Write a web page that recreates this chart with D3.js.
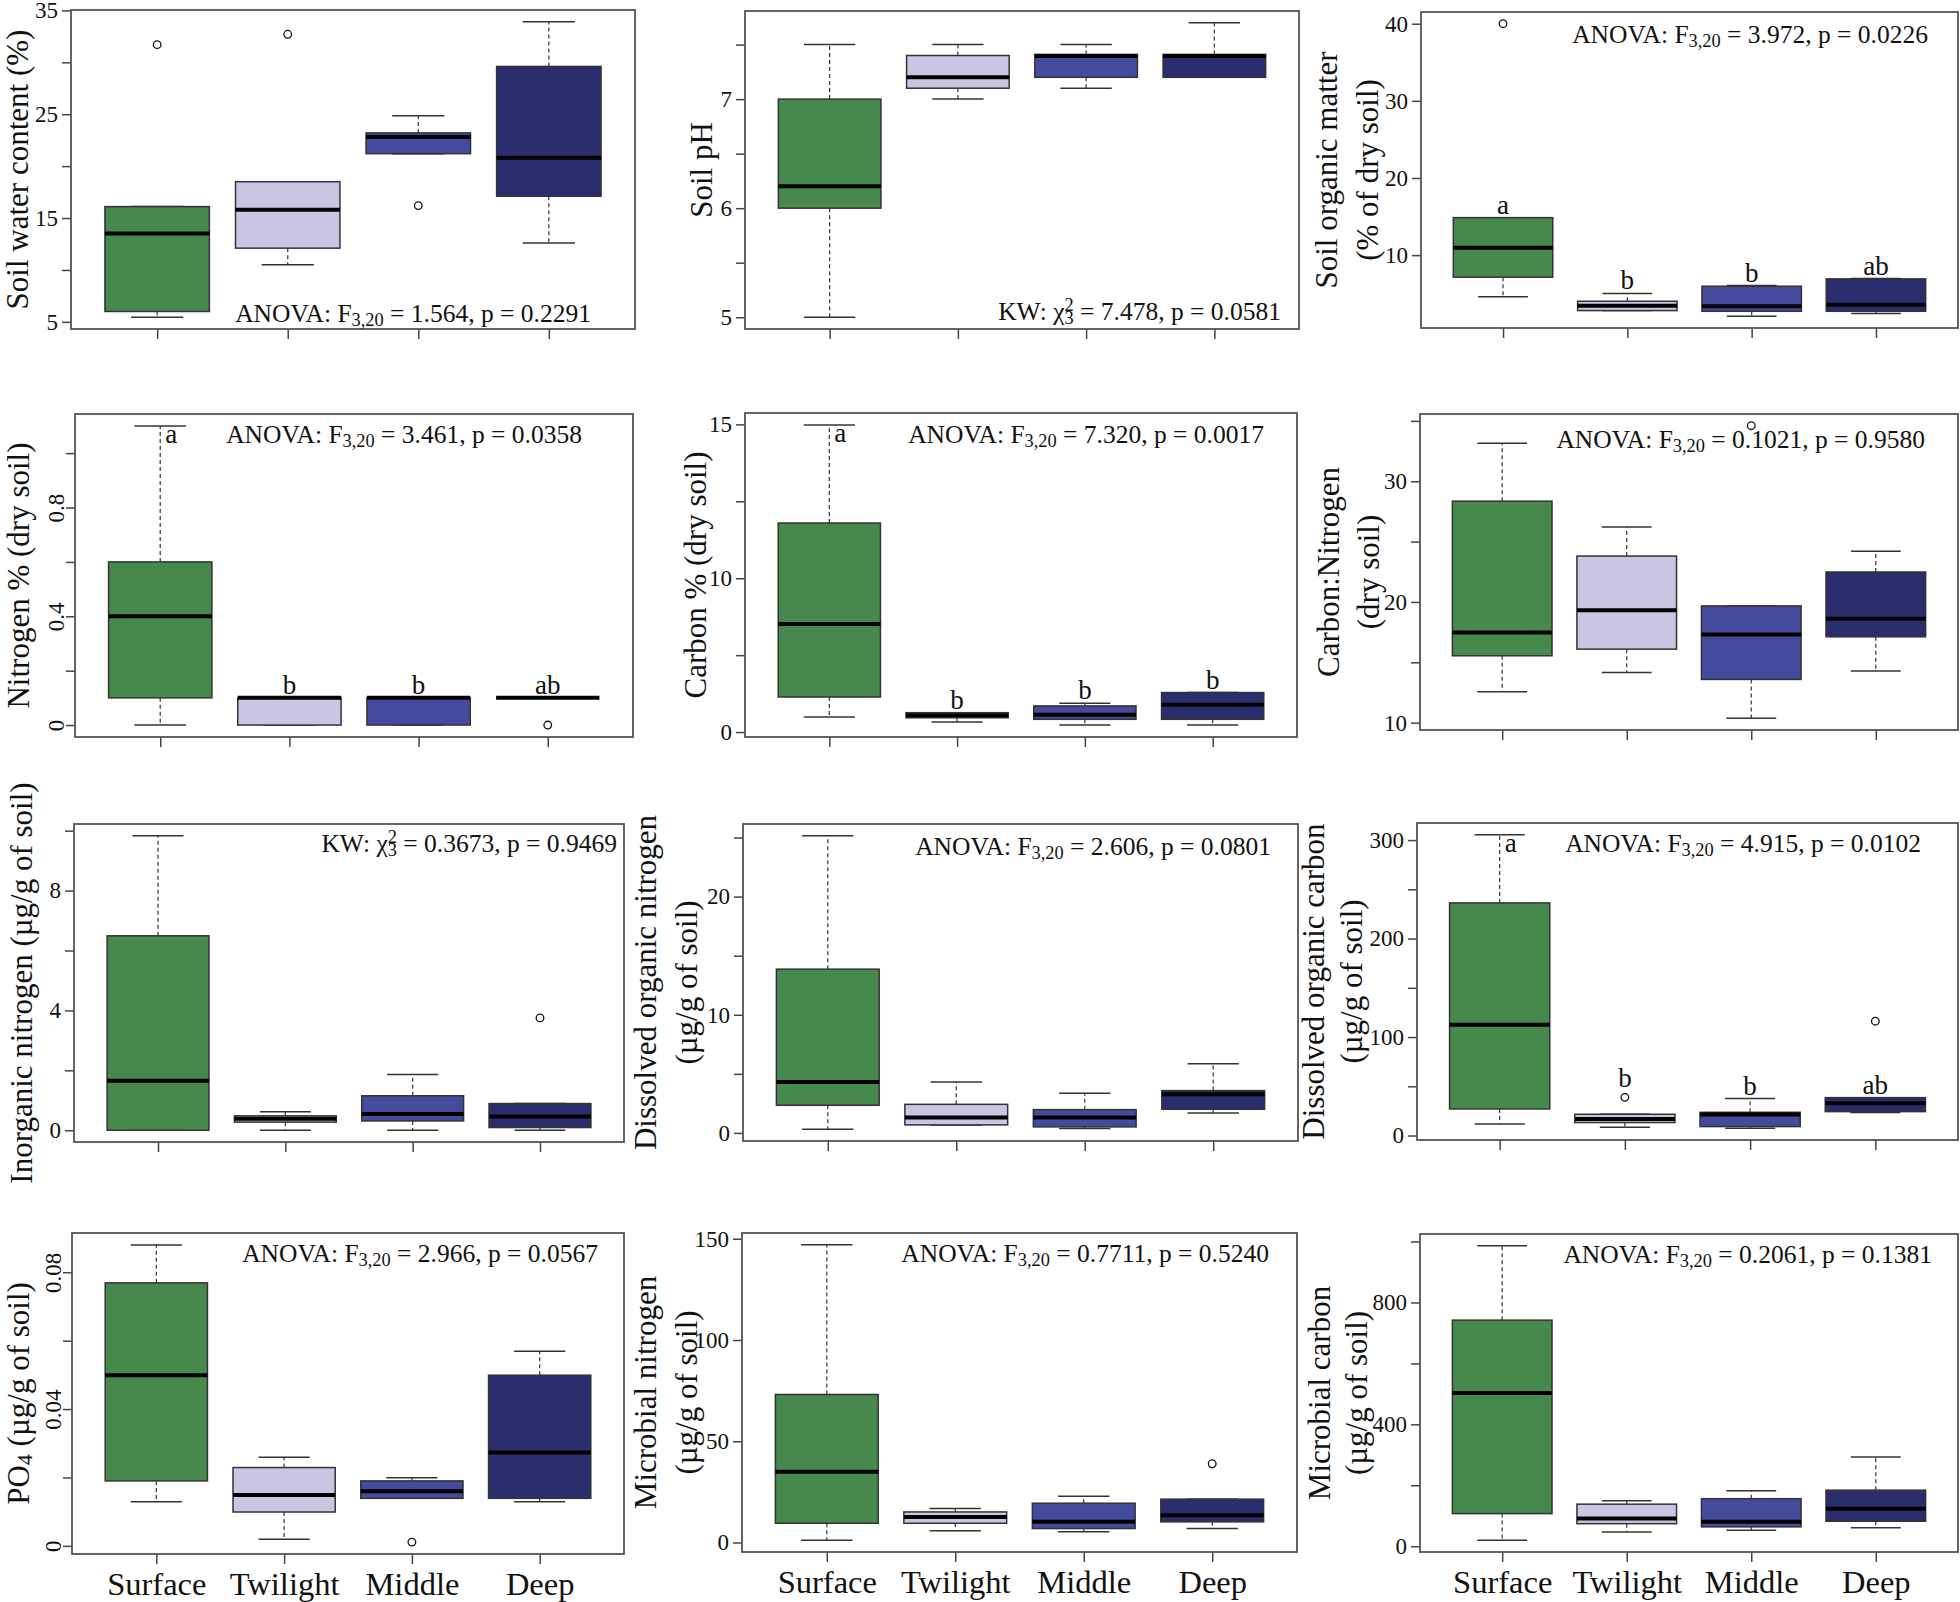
<!DOCTYPE html>
<html><head><meta charset="utf-8">
<script src="https://cdn.jsdelivr.net/npm/d3@7"></script>
<style>
body{margin:0;background:#fff;}
text{white-space:pre;}
</style></head><body>
<svg id="chart" width="1960" height="1602"></svg>
<script>
// ---------------- DATA ----------------
const groups = ["Surface","Twilight","Middle","Deep"];
const groupColors = ["#47884c","#c9c6e4","#454b9c","#2b2e6e"];

// each row: [lower whisker, Q1, median, Q3, upper whisker]
const waterStats = [[5.45,6.0,13.5,16.1,16.1],[10.5,12.1,15.8,18.5,18.5],[21.2,21.2,22.8,23.2,24.85],[12.6,17.1,20.8,29.6,33.9]];
const waterOut = [[31.7],[32.7],[16.2],[]];
const waterTicks = [5,10,15,20,25,30,35];
const waterTickLabels = ["5","","15","","25","","35"];

const phStats = [[5.0,6.0,6.2,7.0,7.5],[7.0,7.1,7.2,7.4,7.5],[7.1,7.2,7.395,7.41,7.5],[7.2,7.2,7.395,7.41,7.7]];
const phOut = [[],[],[],[]];
const phTicks = [5,5.5,6,6.5,7,7.5];
const phTickLabels = ["5","","6","","7",""];

const somStats = [[4.59,7.14,10.95,14.86,14.86],[2.81,2.81,3.45,4.02,5.03],[2.07,2.72,3.37,5.97,6.06],[2.42,2.72,3.58,6.92,6.96]];
const somOut = [[40],[],[],[]];
const somTicks = [10,20,30,40];
const somTickLabels = ["10","20","30","40"];
const somLetters = ["a","b","b","ab"];

const nitroStats = [[0,0.1,0.4,0.6,1.1],[0,0,0.1,0.1,0.1],[0,0,0.1,0.1,0.1],[0.1,0.1,0.1,0.1,0.1]];
const nitroOut = [[],[],[],[0]];
const nitroTicks = [0,0.2,0.4,0.6,0.8,1.0];
const nitroTickLabels = ["0","","0.4","","0.8",""];
const nitroLetters = ["a","b","b","ab"];

const carbonStats = [[0.98,2.28,7.02,13.59,19.96],[0.65,0.93,1.09,1.26,1.26],[0.46,0.83,1.13,1.70,1.87],[0.46,0.83,1.78,2.57,2.57]];
const carbonOut = [[],[],[],[]];
const carbonTicks = [0,5,10,15,20];
const carbonTickLabels = ["0","","10","","15"];
const carbonLetters = ["a","b","b","b"];

const cnStats = [[12.56,15.54,17.47,28.35,33.14],[14.16,16.09,19.31,23.80,26.20],[10.36,13.58,17.3,19.67,19.67],[14.27,17.11,18.6,22.48,24.19]];
const cnOut = [[],[],[34.6],[]];
const cnTicks = [10,15,20,25,30,35];
const cnTickLabels = ["10","","20","","30",""];

const inorgNStats = [[0,0,1.65,6.49,9.83],[0,0.27,0.38,0.48,0.62],[0,0.31,0.54,1.15,1.86],[0,0.09,0.46,0.89,0.89]];
const inorgNOut = [[],[],[],[3.75]];
const inorgNTicks = [0,2,4,6,8,10];
const inorgNTickLabels = ["0","","4","","8",""];

const donStats = [[0.31,2.34,4.31,13.86,25.15],[0.68,0.68,1.30,2.42,4.31],[0.37,0.51,1.30,1.97,3.35],[1.69,2.0,3.27,3.58,5.86]];
const donOut = [[],[],[],[]];
const donTicks = [0,5,10,15,20,25];
const donTickLabels = ["0","","10","","20",""];

const docStats = [[11.8,27,112.4,236.2,305.4],[8.4,13.2,16.9,21.6,21.6],[7.4,9.1,21.3,23.6,37.5],[23.3,24.3,32.7,38.5,38.5]];
const docOut = [[],[38.8],[],[116.1]];
const docTicks = [0,50,100,150,200,250,300];
const docTickLabels = ["0","","100","","200","","300"];
const docLetters = ["a","b","b","ab"];

const po4Stats = [[0.0129,0.0190,0.0499,0.0769,0.0880],[0.0019,0.0099,0.0149,0.0229,0.0259],[0.0139,0.0139,0.0160,0.0190,0.0199],[0.0129,0.0139,0.0273,0.0499,0.0569]];
const po4Out = [[],[],[0.0011],[]];
const po4Ticks = [0,0.02,0.04,0.06,0.08];
const po4TickLabels = ["0","","0.04","","0.08"];

const mbnStats = [[1.15,9.5,35.0,73.1,147.0],[5.75,9.5,12.6,15.1,16.8],[5.3,6.9,10.2,19.4,22.8],[6.9,10.2,13.5,21.4,21.4]];
const mbnOut = [[],[],[],[38.9]];
const mbnTicks = [0,50,100,150];
const mbnTickLabels = ["0","50","100","150"];

const mbcStats = [[19.7,107,503,742,986],[47,74,91,138,149],[52.5,63.5,80,156,182],[61,82,123,184,293]];
const mbcOut = [[],[],[],[]];
const mbcTicks = [0,200,400,600,800,1000];
const mbcTickLabels = ["0","","400","","800",""];

const testNames = ["ANOVA","KW","ANOVA","ANOVA","ANOVA","ANOVA","KW","ANOVA","ANOVA","ANOVA","ANOVA","ANOVA"];
const testStats = ["1.564","7.478","3.972","3.461","7.320","0.1021","0.3673","2.606","4.915","2.966","0.7711","0.2061"];
const testP = ["0.2291","0.0581","0.0226","0.0358","0.0017","0.9580","0.9469","0.0801","0.0102","0.0567","0.5240","0.1381"];

const titles = [
  ["Soil water content (%)"],
  ["Soil pH"],
  ["Soil organic matter","(% of dry soil)"],
  ["Nitrogen % (dry soil)"],
  ["Carbon % (dry soil)"],
  ["Carbon:Nitrogen","(dry soil)"],
  ["Inorganic nitrogen (µg/g of soil)"],
  ["Dissolved organic nitrogen","(µg/g of soil)"],
  ["Dissolved organic carbon","(µg/g of soil)"],
  ["PO_4 (µg/g of soil)"],
  ["Microbial nitrogen","(µg/g of soil)"],
  ["Microbial carbon","(µg/g of soil)"]
];

// ---------------- LAYOUT (positions only) ----------------
const layout = [
  {rect:[71,10,635,329],   titleX:[-54],      testEnd:44, testFrom:"b", testOff:-7},
  {rect:[745,11,1299,329], titleX:[-44],      testEnd:18, testFrom:"b", testOff:-9},
  {rect:[1421,12,1958,328],titleX:[-95,-54],  testEnd:30, testFrom:"t", testOff:31},
  {rect:[75,414,633,737],  titleX:[-57],      testEnd:51, testFrom:"t", testOff:29, rotTicks:true},
  {rect:[745,413,1297,737],titleX:[-50],      testEnd:33, testFrom:"t", testOff:30},
  {rect:[1420,414,1958,730],titleX:[-92,-52], testEnd:33, testFrom:"t", testOff:34},
  {rect:[74,824,624,1142], titleX:[-53],      testEnd:7,  testFrom:"t", testOff:28},
  {rect:[743,824,1298,1141],titleX:[-98,-57], testEnd:27, testFrom:"t", testOff:31},
  {rect:[1417,823,1958,1140],titleX:[-104,-66],testEnd:37,testFrom:"t", testOff:29},
  {rect:[72,1233,624,1554],titleX:[-54],      testEnd:26, testFrom:"t", testOff:29, rotTicks:true, showX:true},
  {rect:[742,1233,1297,1552],titleX:[-97,-56],testEnd:28, testFrom:"t", testOff:29, showX:true},
  {rect:[1420,1234,1958,1552],titleX:[-101,-64],testEnd:26,testFrom:"t", testOff:29, showX:true}
];

// letter annotation anchors (data units) and placement
const letterSpecs = [
  null, null,
  {letters:somLetters,   at:[14.86,5.03,6.06,6.96], side:[false,false,false,false]},
  {letters:nitroLetters, at:[1.1,0.1,0.1,0.1],      side:[true,false,false,false]},
  {letters:carbonLetters,at:[19.96,1.26,1.87,2.57], side:[true,false,false,false]},
  null, null, null,
  {letters:docLetters,   at:[305.4,45,37.5,38.5],   side:[true,false,false,false]},
  null, null, null
];

const statsList = [waterStats,phStats,somStats,nitroStats,carbonStats,cnStats,inorgNStats,donStats,docStats,po4Stats,mbnStats,mbcStats];
const outList = [waterOut,phOut,somOut,nitroOut,carbonOut,cnOut,inorgNOut,donOut,docOut,po4Out,mbnOut,mbcOut];
const tickList = [waterTicks,phTicks,somTicks,nitroTicks,carbonTicks,cnTicks,inorgNTicks,donTicks,docTicks,po4Ticks,mbnTicks,mbcTicks];
const tickLabelList = [waterTickLabels,phTickLabels,somTickLabels,nitroTickLabels,carbonTickLabels,cnTickLabels,inorgNTickLabels,donTickLabels,docTickLabels,po4TickLabels,mbnTickLabels,mbcTickLabels];

// ---------------- DRAW ----------------
const FONT = '"Liberation Serif","Times New Roman",Times,serif';
const svg = d3.select("#chart");
svg.append("rect").attr("width",1960).attr("height",1602).attr("fill","#fff");

function drawPanel(k) {
  const L = layout[k];
  const [l,t,r,b] = L.rect;
  const stats = statsList[k], outs = outList[k];
  const g = svg.append("g");
  const vals = stats.flat().concat(outs.flat());
  const lo = d3.min(vals), hi = d3.max(vals), pad = (hi-lo)*0.04;
  const y = d3.scaleLinear().domain([lo-pad, hi+pad]).range([b,t]);
  const x = d3.scaleLinear().domain([0.34, 4.66]).range([l,r]);
  const bw = x(1.4)-x(1), cw = x(1.2)-x(1);

  // y axis
  const labels = tickLabelList[k];
  const ya = g.append("g").attr("transform",`translate(${l},0)`)
    .call(d3.axisLeft(y).tickValues(tickList[k]).tickSize(9).tickSizeOuter(0).tickPadding(4)
      .tickFormat((d,i)=>labels[i]));
  ya.select(".domain").remove();
  ya.selectAll("line").attr("stroke","#444").attr("stroke-width",1.5);
  ya.selectAll("text").attr("font-family",FONT).attr("font-size",23).attr("fill","#111");
  if (L.rotTicks) {
    ya.selectAll("text").attr("transform","rotate(-90)").attr("x",0).attr("y",-11)
      .attr("dy",0).attr("text-anchor","middle");
  }
  ya.selectAll("text").filter(function(){ return this.textContent === ""; }).remove();

  // x axis
  const xa = g.append("g").attr("transform",`translate(0,${b})`)
    .call(d3.axisBottom(x).tickValues([1,2,3,4]).tickSize(10).tickSizeOuter(0).tickPadding(8)
      .tickFormat(d => L.showX ? groups[d-1] : ""));
  xa.select(".domain").remove();
  xa.selectAll("line").attr("stroke","#444").attr("stroke-width",1.5);
  xa.selectAll("text").attr("font-family",FONT).attr("font-size",32.5).attr("fill","#111");
  xa.selectAll("text").filter(function(){ return this.textContent === ""; }).remove();

  // boxes
  stats.forEach((s,i)=>{
    const cx = x(i+1);
    const [w0,q1,med,q3,w1] = s;
    const bg = g.append("g");
    if (w1 > q3) bg.append("line").attr("x1",cx).attr("x2",cx).attr("y1",y(q3)).attr("y2",y(w1))
      .attr("stroke","#444").attr("stroke-width",1.3).attr("stroke-dasharray","4,3");
    if (w0 < q1) bg.append("line").attr("x1",cx).attr("x2",cx).attr("y1",y(q1)).attr("y2",y(w0))
      .attr("stroke","#444").attr("stroke-width",1.3).attr("stroke-dasharray","4,3");
    [w0,w1].forEach(v=>bg.append("line").attr("x1",cx-cw).attr("x2",cx+cw).attr("y1",y(v)).attr("y2",y(v))
      .attr("stroke","#333").attr("stroke-width",1.5));
    bg.append("rect").attr("x",cx-bw).attr("y",y(q3)).attr("width",2*bw).attr("height",Math.max(0,y(q1)-y(q3)))
      .attr("fill",groupColors[i]).attr("stroke","#333").attr("stroke-width",1.5);
    bg.append("line").attr("x1",cx-bw).attr("x2",cx+bw).attr("y1",y(med)).attr("y2",y(med))
      .attr("stroke","#000").attr("stroke-width",4);
    outs[i].forEach(v=>bg.append("circle").attr("cx",cx).attr("cy",y(v)).attr("r",3.8)
      .attr("fill","none").attr("stroke","#111").attr("stroke-width",1.3));
  });

  // frame
  g.append("rect").attr("x",l).attr("y",t).attr("width",r-l).attr("height",b-t)
    .attr("fill","none").attr("stroke","#555").attr("stroke-width",1.8);

  // letters
  const ls = letterSpecs[k];
  if (ls) ls.letters.forEach((txt,i)=>{
    const cx = x(i+1), v = ls.at[i], side = ls.side[i];
    g.append("text").attr("x", side ? cx+5 : cx).attr("y", side ? y(v)+17 : y(v)-4)
      .attr("text-anchor", side ? "start" : "middle").attr("font-family",FONT)
      .attr("font-size",27).attr("fill","#111").text(txt);
  });

  // test text
  const fs = 25.5;
  const tx = r - L.testEnd;
  const ty = L.testFrom === "b" ? b + L.testOff : t + L.testOff;
  const tt = g.append("text").attr("x",tx).attr("y",ty).attr("text-anchor","end")
    .attr("font-family",FONT).attr("font-size",fs).attr("fill","#111");
  if (testNames[k] === "ANOVA") {
    tt.append("tspan").text("ANOVA: F");
    tt.append("tspan").attr("font-size",fs*0.72).attr("dy",4).text("3,20");
    tt.append("tspan").attr("dy",-4).text(` = ${testStats[k]}, p = ${testP[k]}`);
  } else {
    tt.append("tspan").text("KW: χ");
    tt.append("tspan").attr("font-size",fs*0.72).attr("dy",-9).text("2");
    tt.append("tspan").attr("font-size",fs*0.72).attr("dx",-fs*0.72*0.5).attr("dy",13).text("3");
    tt.append("tspan").attr("dy",-4).text(` = ${testStats[k]}, p = ${testP[k]}`);
  }

  // y title
  titles[k].forEach((line,j)=>{
    const cx = l + L.titleX[j], cy = (t+b)/2;
    const te = g.append("text").attr("transform",`translate(${cx},${cy}) rotate(-90)`)
      .attr("text-anchor","middle").attr("dominant-baseline","central")
      .attr("font-family",FONT).attr("font-size",31).attr("fill","#111");
    if (line.includes("_")) {
      const [pre, rest] = line.split("_");
      te.append("tspan").text(pre);
      te.append("tspan").attr("font-size",22).attr("dy",6).text(rest.charAt(0));
      te.append("tspan").attr("dy",-6).text(rest.slice(1));
    } else te.text(line);
  });
}

for (let k=0;k<12;k++) drawPanel(k);
</script>
</body></html>
